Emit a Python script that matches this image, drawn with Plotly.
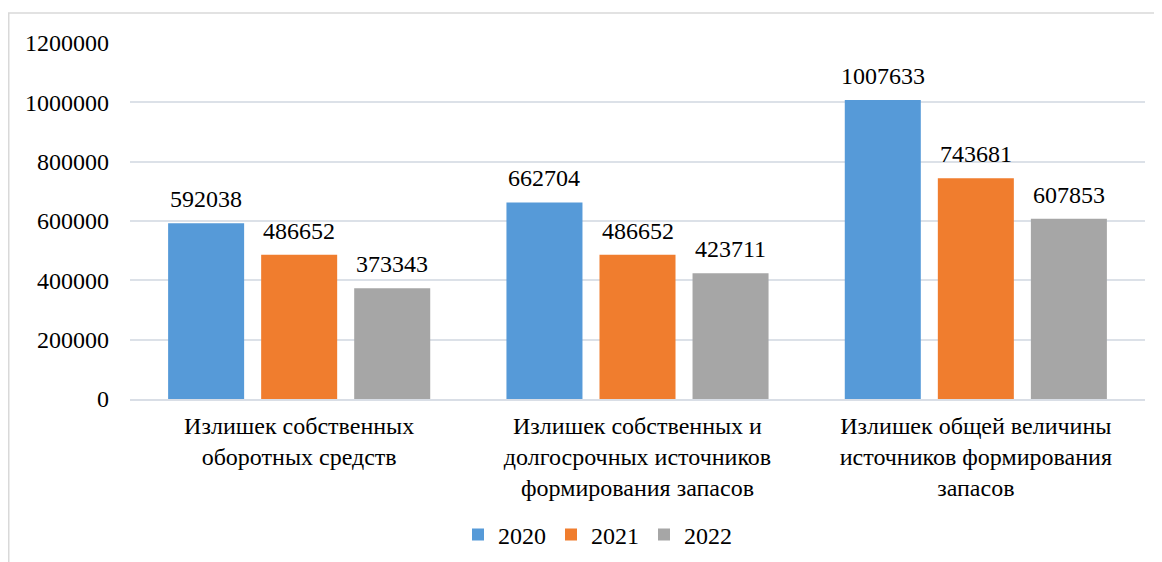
import plotly.graph_objects as go

categories = [
    "Излишек собственных<br>оборотных средств",
    "Излишек собственных и<br>долгосрочных источников<br>формирования запасов",
    "Излишек общей величины<br>источников формирования<br>запасов",
]
series_names = ["2020", "2021", "2022"]
values_2020 = [592038, 662704, 1007633]
values_2021 = [486652, 486652, 743681]
values_2022 = [373343, 423711, 607853]
y_ticks = [0, 200000, 400000, 600000, 800000, 1000000, 1200000]

colors = ["#569AD8", "#F07D2E", "#A6A6A6"]
FONT = "Liberation Serif"
FS = 24

series = [values_2020, values_2021, values_2022]

fig = go.Figure()
for name, vals, col in zip(series_names, series, colors):
    fig.add_trace(go.Bar(
        x=categories, y=vals, name=name,
        marker=dict(color=col, line=dict(width=0)),
        cliponaxis=False,
    ))

OFF = 8  # page body margin
W, H = 1162 - OFF, 562 - OFF
ml, mt = 130 - OFF, 43 - OFF
mr = W - (1145 - OFF)
mb = H - (399 - OFF)
pw, ph = W - ml - mr, H - mt - mb

# data labels above each bar (slot width in px = category width * (1-bargap)/3)
bargap = 0.175
slot_px = pw / len(categories) * (1 - bargap) / len(series)
annotations = []
for i, vals in enumerate(series):
    for cat, v in zip(categories, vals):
        annotations.append(dict(
            x=cat, y=v, xref="x", yref="y", text=str(v), showarrow=False,
            xshift=(i - 1) * slot_px, yshift=24, yanchor="middle",
            font=dict(family=FONT, size=FS, color="#000000"),
        ))

fig.update_layout(
    width=W, height=H,
    margin=dict(l=ml, r=mr, t=mt, b=mb, autoexpand=False),
    paper_bgcolor="white", plot_bgcolor="white",
    barmode="group", bargap=bargap, bargroupgap=0.183,
    font=dict(family=FONT, size=FS, color="#000000"),
    showlegend=True,
    legend=dict(orientation="h", x=0.5 - 40 / pw, xanchor="center",
                yref="container", y=1 - (535 - OFF) / H, yanchor="middle",
                font=dict(family=FONT, size=FS), itemwidth=30,
                traceorder="normal"),
    xaxis=dict(showline=True, linecolor="#D9DEE6", linewidth=2,
               ticks="", tickfont=dict(family=FONT, size=FS),
               ticklabelstandoff=4, automargin=False),
    yaxis=dict(range=[0, 1200000], tickvals=y_ticks,
               ticktext=[str(v) for v in y_ticks],
               showgrid=True, gridcolor="#DCE1E8", gridwidth=2,
               zeroline=False, showline=False, ticks="",
               tickfont=dict(family=FONT, size=FS),
               ticklabelstandoff=20, automargin=False),
    annotations=annotations,
    shapes=[dict(type="rect", xref="paper", yref="paper",
                 x0=(0.75 - ml) / pw, x1=(1153 - ml) / pw,
                 y0=-(mb + 20) / ph, y1=1 + (mt - 5) / ph,
                 line=dict(color="#D9D9D9", width=1.5), layer="below")],
)

fig.write_html("out.html")
